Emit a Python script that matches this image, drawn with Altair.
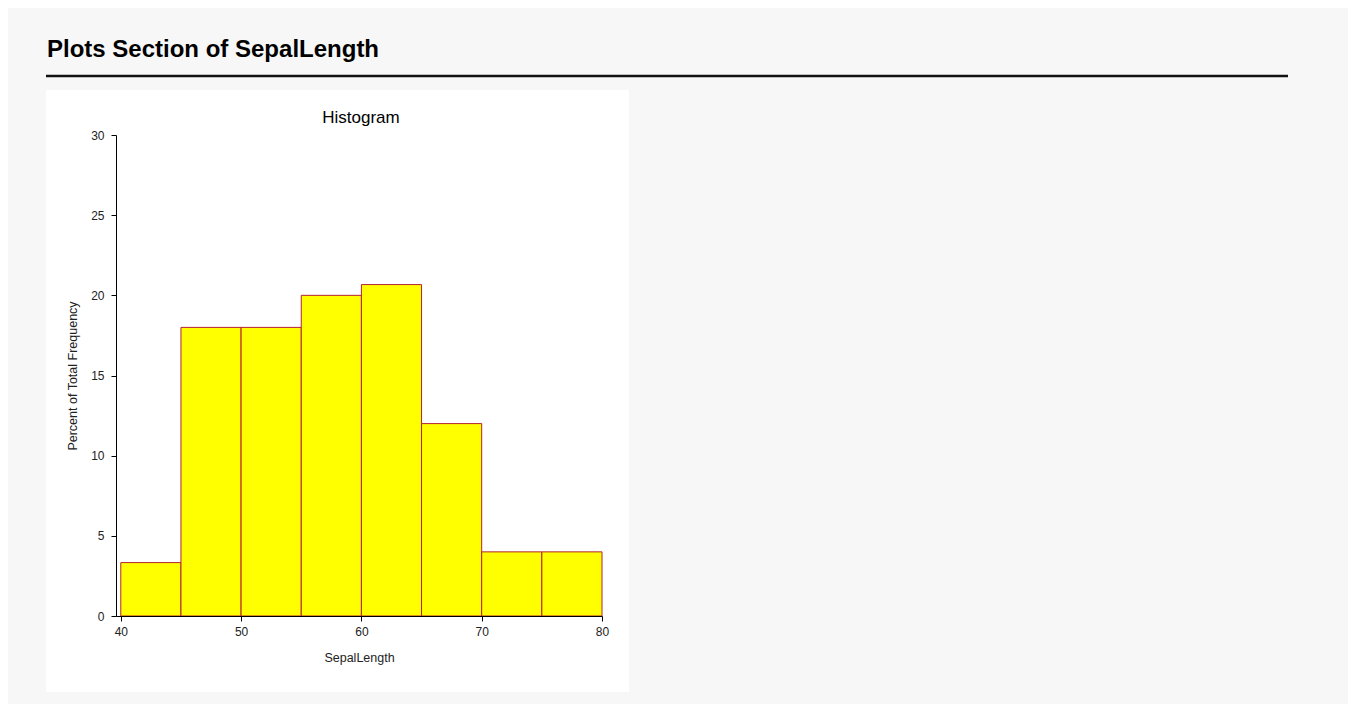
import altair as alt
import pandas as pd

# ---- data ----
bin_start = [40, 45, 50, 55, 60, 65, 70, 75]
bin_end = [45, 50, 55, 60, 65, 70, 75, 80]
percent = [3.33, 18.0, 18.0, 20.0, 20.67, 12.0, 4.0, 4.0]
x_ticks = [40, 50, 60, 70, 80]
y_ticks = [0, 5, 10, 15, 20, 25, 30]
header = ["Plots Section of SepalLength"]
panel_title = ["Histogram"]

df = pd.DataFrame({"start": bin_start, "end": bin_end, "pct": percent})

FONT = "Liberation Sans, Arial, sans-serif"
TXT = "#222222"
W, H = 486, 481

# white panel behind the histogram (decoration)
panel = alt.Chart(alt.Data(values=[{"k": 1}])).mark_rect(fill="white").encode(
    x=alt.value(-70), x2=alt.value(513), y=alt.value(-45), y2=alt.value(557)
)

bars = alt.Chart(df).mark_rect(fill="#ffff00", stroke="#b22234", strokeWidth=1).encode(
    x=alt.X(
        "start:Q",
        scale=alt.Scale(domain=[39.6, 80], nice=False, zero=False),
        axis=alt.Axis(
            values=x_ticks, title="SepalLength", grid=False, labelFlush=False,
            domainColor="black", tickColor="black", tickSize=5,
            labelFont=FONT, labelFontSize=12, labelColor=TXT, labelPadding=5,
            titleFont=FONT, titleFontSize=12.5, titleFontWeight="normal",
            titleColor=TXT, titlePadding=14, zindex=1,
        ),
    ),
    x2="end:Q",
    y=alt.Y(
        "pct:Q",
        scale=alt.Scale(domain=[0, 30], nice=False),
        axis=alt.Axis(
            values=y_ticks, title="Percent of Total Frequency", grid=False,
            domainColor="black", tickColor="black", tickSize=5,
            labelFont=FONT, labelFontSize=12, labelColor=TXT, labelPadding=7,
            titleFont=FONT, titleFontSize=12.5, titleFontWeight="normal",
            titleColor=TXT, titlePadding=11, zindex=1,
        ),
    ),
    y2=alt.datum(0),
)

hist_title = alt.Chart(alt.Data(values=[{"t": h} for h in panel_title])).mark_text(
    font=FONT, fontSize=17, color="black", align="center", baseline="alphabetic",
).encode(text="t:N", x=alt.value(245), y=alt.value(-12))

header_text = alt.Chart(alt.Data(values=[{"t": h} for h in header])).mark_text(
    font=FONT, fontSize=24, fontWeight="bold", color="black",
    align="left", baseline="alphabetic",
).encode(text="t:N", x=alt.value(-69), y=alt.value(-78))

header_rule = alt.Chart(alt.Data(values=[{"k": 1}])).mark_rule(
    color="#111111", strokeWidth=2.5
).encode(x=alt.value(-70), x2=alt.value(1172), y=alt.value(-59))

chart = alt.layer(panel, bars, hist_title, header_text, header_rule).properties(
    width=W,
    height=H,
    autosize=alt.AutoSizeParams(type="none"),
    padding={"left": 108, "top": 127, "right": 746, "bottom": 88},
    background="#f7f7f7",
).configure_view(strokeWidth=0)

chart.save("out.html", embed_options={"renderer": "svg", "actions": False})
